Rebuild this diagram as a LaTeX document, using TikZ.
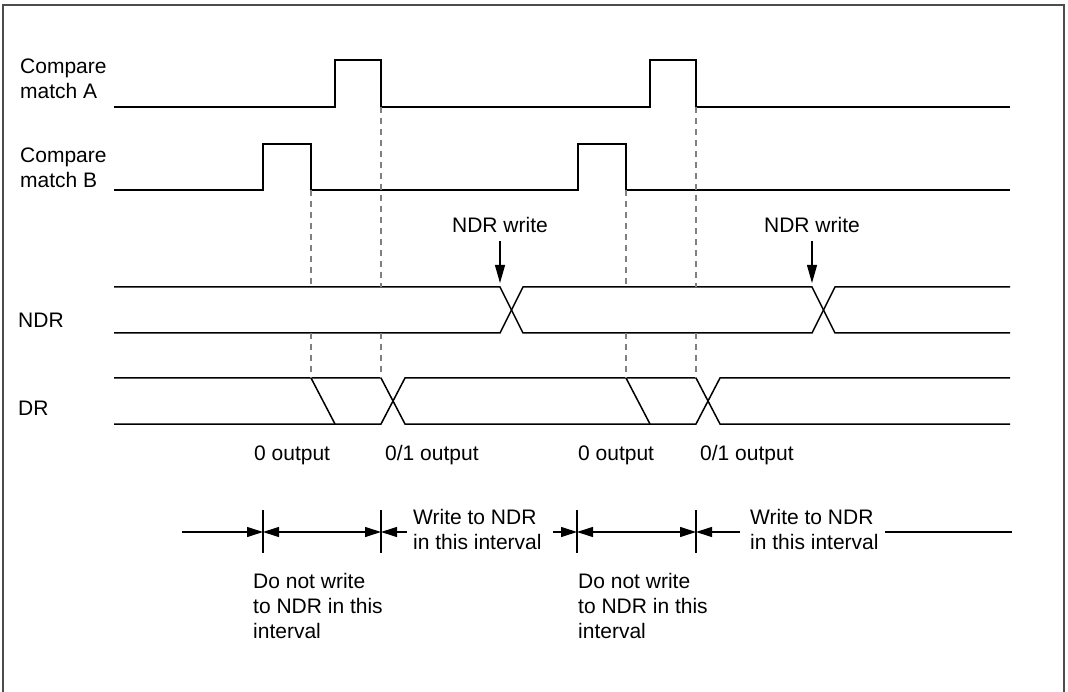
\documentclass[tikz,border=0pt]{standalone}
\usepackage{fontspec}
\setmainfont{Liberation Sans}
\usetikzlibrary{arrows.meta}
\begin{document}
\begin{tikzpicture}[x=1pt,y=-1pt,
  wave/.style={line width=1.5pt},
  guide/.style={gray, line width=1.5pt, dash pattern=on 6pt off 5pt},
  lbl/.style={inner sep=0pt, font=\fontsize{21}{25}\selectfont, align=left},
  tickline/.style={line width=1.1pt},
  dim/.style={line width=1.1pt, -{Triangle[length=16pt,width=10pt]}},
  dimboth/.style={line width=1.1pt, {Triangle[length=16pt,width=10pt]}-{Triangle[length=16pt,width=10pt]}},
  wr/.style={line width=1.1pt, -{Triangle[length=18pt,width=10pt]}}]
\useasboundingbox (0,0) rectangle (1068,692);
\draw[gray!60!black, line width=2pt] (3,692) -- (3,5) -- (1064,5) -- (1064,692);

% labels of signals
\node[lbl, anchor=base west] (lA) at (20,99) {Compare\\match A};
\node[lbl, anchor=base west] (lB) at (20,188) {Compare\\match B};
\node[lbl, anchor=base west] (lN) at (18,328) {NDR};
\node[lbl, anchor=base west] (lD) at (18,415) {DR};

% Compare match A
\draw[wave] (114,107) -- (335,107) -- (335,60) -- (381,60) -- (381,107) -- (650,107) -- (650,60) -- (696,60) -- (696,107) -- (1010,107);
% Compare match B
\draw[wave] (114,190) -- (263,190) -- (263,144) -- (311,144) -- (311,190) -- (578,190) -- (578,144) -- (626,144) -- (626,190) -- (1010,190);

% NDR bus
\draw[wave] (114,287) -- (500,287) -- (523,333) -- (812,333) -- (835,287) -- (1010,287);
\draw[wave] (114,333) -- (500,333) -- (523,287) -- (812,287) -- (835,333) -- (1010,333);

% DR bus
\draw[wave] (114,378) -- (381,378) -- (405,424) -- (696,424) -- (720,378) -- (1010,378);
\draw[wave] (114,424) -- (381,424) -- (405,378) -- (696,378) -- (720,424) -- (1010,424);
\draw[wave] (311,378) -- (335,424);
\draw[wave] (626,378) -- (650,424);

% dashed guides
\foreach \x/\y in {311/190, 381/107, 626/190, 696/107}{
  \draw[guide] (\x,\y) -- (\x,287);
  \draw[guide] (\x,333) -- (\x,378);
}

% NDR write
\node[lbl, anchor=base] (w1) at (500,233) {NDR write};
\node[lbl, anchor=base] (w2) at (812,233) {NDR write};
\coordinate (w1t) at (500,283);
\coordinate (w2t) at (812,283);
\draw[wr] (w1.south) ++(0,8) -- (w1t);
\draw[wr] (w2.south) ++(0,8) -- (w2t);

% output labels
\node[lbl, anchor=base west] (o1) at (254,460) {0 output};
\node[lbl, anchor=base west] (o2) at (385,460) {0/1 output};
\node[lbl, anchor=base west] (o3) at (578,460) {0 output};
\node[lbl, anchor=base west] (o4) at (700,460) {0/1 output};

% interval dimension line
\coordinate (s0) at (182,532);
\coordinate (t1) at (263,532);
\coordinate (t2) at (381,532);
\coordinate (e2) at (407,532);
\coordinate (s3) at (553,532);
\coordinate (t3) at (577,532);
\coordinate (t4) at (696,532);
\coordinate (e4) at (740,532);
\coordinate (s5) at (885,532);
\coordinate (e5) at (1012,532);
\foreach \c in {t1,t2,t3,t4}{
  \draw[tickline] (\c) ++(0,-22) -- ++(0,43);
}
\draw[dim] (s0) -- (t1);
\draw[dimboth] (t1) -- (t2);
\draw[dim] (e2) -- (t2);
\draw[dim] (s3) -- (t3);
\draw[dimboth] (t3) -- (t4);
\draw[dim] (e4) -- (t4);
\draw[line width=1.1pt] (s5) -- (e5);

\node[lbl, anchor=base west] (i1) at (413,549) {Write to NDR\\in this interval};
\node[lbl, anchor=base west] (i2) at (750,549) {Write to NDR\\in this interval};
\node[lbl, anchor=base west] (d1) at (253,638) {Do not write\\to NDR in this\\interval};
\node[lbl, anchor=base west] (d2) at (578,638) {Do not write\\to NDR in this\\interval};
\end{tikzpicture}
\end{document}
